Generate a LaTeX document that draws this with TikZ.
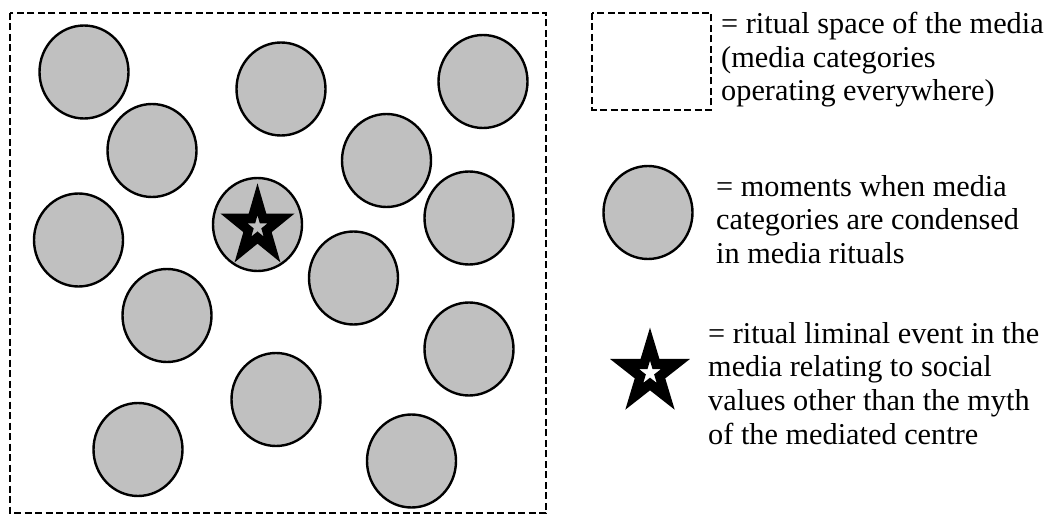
\documentclass[tikz,border=0pt]{standalone}
\usepackage{fontspec}
\setmainfont{Liberation Serif}
\usetikzlibrary{shapes.geometric}
\definecolor{discgray}{RGB}{192,192,192}
\tikzset{
  disc/.style={ellipse, draw=black, line width=2.4pt, fill=discgray,
    minimum width=89pt, minimum height=93pt, inner sep=0pt},
  dashbox/.style={draw=black, line width=2.3pt, dash pattern=on 7pt off 3.5pt},
  legendtext/.style={anchor=north west, inner sep=0pt, align=left,
    font=\fontsize{30.3}{33.6}\selectfont},
}
\newcommand{\holestar}[5]{% cx, cy, R, yscale, r (hole)
  \fill[black, even odd rule, shift={(#1,#2)}, yscale=#4]
    (-90:#3) -- (-54:{0.382*#3}) -- (-18:#3) -- (18:{0.382*#3}) -- (54:#3)
    -- (90:{0.382*#3}) -- (126:#3) -- (162:{0.382*#3}) -- (198:#3)
    -- (234:{0.382*#3}) -- cycle
    (-90:#5) -- (-54:{0.382*#5}) -- (-18:#5) -- (18:{0.382*#5}) -- (54:#5)
    -- (90:{0.382*#5}) -- (126:#5) -- (162:{0.382*#5}) -- (198:#5)
    -- (234:{0.382*#5}) -- cycle;}
\begin{document}
\begin{tikzpicture}[x=1pt, y=-1pt]
\useasboundingbox (0,0) rectangle (1058,516);
% ritual space
\draw[dashbox] (10,13) rectangle (546,513);
% discs
\node[disc] (c1) at (84,72) {};
\node[disc] (c2) at (281,89) {};
\node[disc] (c3) at (483,81.5) {};
\node[disc] (c4) at (152,150.5) {};
\node[disc] (c5) at (386.5,160.5) {};
\node[disc] (c6) at (78.5,240) {};
\node[disc] (c7) at (257.5,224.5) {};
\node[disc] (c8) at (469,218) {};
\node[disc] (c9) at (353.5,278) {};
\node[disc] (c10) at (167,315.5) {};
\node[disc] (c11) at (469,349) {};
\node[disc] (c12) at (276,399.5) {};
\node[disc] (c13) at (138,449.5) {};
\node[disc] (c14) at (411.5,461) {};
\holestar{257.5}{227}{39}{1.12}{10.5}
% legend
\draw[dashbox] (592,13) rectangle (711,110);
\node[disc] (lc) at (648,212.5) {};
\holestar{650}{373}{42}{1.08}{11.4}
\node[legendtext] (t1) at (721,12) {= ritual space of the media\\(media categories\\operating everywhere)};
\node[legendtext] (t2) at (716,175) {= moments when media\\categories are condensed\\in media rituals};
\node[legendtext] (t3) at (708,322) {= ritual liminal event in the\\media relating to social\\values other than the myth\\of the mediated centre};
\end{tikzpicture}
\end{document}
